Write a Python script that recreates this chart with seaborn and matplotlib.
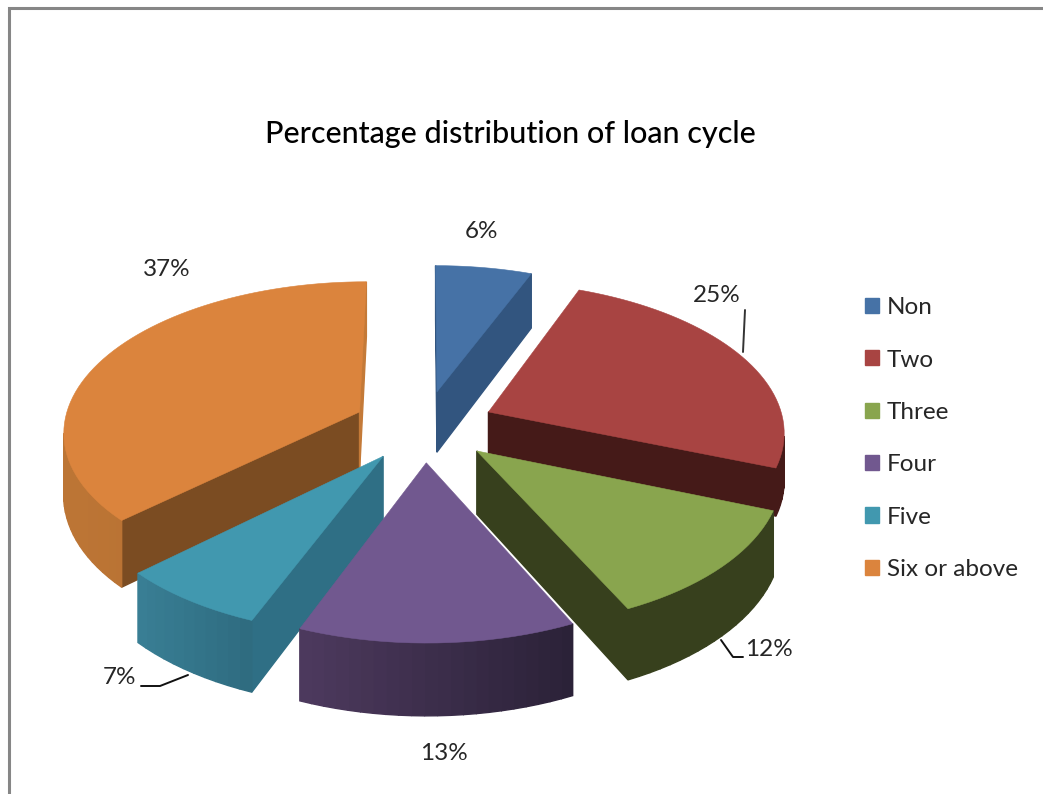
import numpy as np
import matplotlib
matplotlib.use("Agg")
import matplotlib.pyplot as plt
from matplotlib.colors import to_rgb
from matplotlib.patches import Patch, Polygon
import seaborn as sns

# Loan cycle shares, in percent
categories = ["Non", "Two", "Three", "Four", "Five", "Six or above"]
shares = [6, 25, 12, 13, 7, 37]

top_colors = ["#4672A6", "#A84442", "#89A54E", "#71588F", "#4198AF", "#DB843D"]
face_colors = ["#32557F", "#451A18", "#37401D", "#4A3A60", "#2F6F85", "#7B4C22"]
closing_face_colors = ["#32557F", "#451A18", "#37401D", "#4A3A60", "#2F6F85", "#C47A38"]
wall_left = ["#32557F", "#451A18", "#37401D", "#4E3A5F", "#3A8096", "#BC7535"]
wall_right = ["#32557F", "#451A18", "#37401D", "#2B2238", "#2F6C80", "#B06A2E"]
depth_scale = [1.0, 0.75, 1.0, 1.0, 1.0, 1.0]

# Pie projection settings, in pixels of the figure
CX, CY = 424, 426
RX, RY = 296, 149
PERSP = 0.12
DEPTH = 62
EXPLODE = 0.24

sns.set_theme(style="white")
plt.rcParams["font.family"] = ["Lato", "DejaVu Sans"]

fig = plt.figure(figsize=(10.43, 7.94), dpi=100, facecolor="white")
ax = fig.add_axes([0, 0, 1, 1])
ax.set_xlim(0, 1043)
ax.set_ylim(794, 0)
ax.axis("off")

# Chart frame, open on the right and at the bottom
ax.plot([9, 9, 1043], [794, 8, 8], color="#868686", lw=2.2, solid_joinstyle="miter", zorder=1)


def project(x, y, drop=0.0):
    s = 1.0 / (1.0 + PERSP * y)
    return CX + RX * x * s, CY - RY * y * s + DEPTH * drop * s


def signed_area(poly):
    xs, ys = np.array(poly).T
    return 0.5 * np.sum(xs * np.roll(ys, -1) - np.roll(xs, -1) * ys)


def slice_geometry(start, end):
    mid = 0.5 * (start + end)
    bx, by = EXPLODE * np.sin(mid), EXPLODE * np.cos(mid)
    ts = np.linspace(start, end, max(int(np.degrees(end - start) / 2), 4))
    return (bx, by), bx + np.sin(ts), by + np.cos(ts), ts


fractions = np.array(shares) / sum(shares)
edges = np.concatenate([[0], np.cumsum(fractions)]) * 2 * np.pi
slices = []
for i in range(len(shares)):
    apex, arc_x, arc_y, ts = slice_geometry(edges[i], edges[i + 1])
    slices.append((i, apex, arc_x, arc_y, ts))

# Paint the farthest slices first
slices.sort(key=lambda item: -(item[1][1] + item[3].mean()))
z = 2
for i, apex, xs, ys, ts in slices:
    top = [project(apex[0], apex[1])] + [project(a, b) for a, b in zip(xs, ys)]
    orient = np.sign(signed_area(top))
    left_px = project(xs.min(), ys.mean())[0]
    right_px = project(xs.max(), ys.mean())[0]
    drop = depth_scale[i]

    # Side walls: keep only those facing the viewer, the top face hides the rest
    ring = [apex] + list(zip(xs, ys)) + [apex]
    n = len(ring) - 1
    for k in range(n):
        (x0, y0), (x1, y1) = ring[k], ring[k + 1]
        quad = [project(x0, y0), project(x1, y1), project(x1, y1, drop), project(x0, y0, drop)]
        if signed_area(quad) * orient >= 0:
            continue
        if k == 0:
            color = face_colors[i]
        elif k == n - 1:
            color = closing_face_colors[i]
        else:
            u = float(np.clip((project(x0, y0)[0] - left_px) / max(1e-6, right_px - left_px), 0, 1))
            color = tuple((1 - u) * np.array(to_rgb(wall_left[i])) + u * np.array(to_rgb(wall_right[i])))
        ax.add_patch(Polygon(quad, closed=True, facecolor=color, edgecolor=color, lw=1.0, zorder=z))
    ax.add_patch(Polygon(top, closed=True, facecolor=top_colors[i], edgecolor=top_colors[i], lw=0.4, zorder=z + 1))
    z += 2

# Percentage labels
label_xy = [(481, 232), (717, 295), (769, 649), (444, 754), (120, 678), (167, 269)]
for share, (lx, ly) in zip(shares, label_xy):
    ax.text(lx, ly, f"{share}%", ha="center", va="center", fontsize=17.5, color="#262626", zorder=50)

# Leader lines for the labels set away from their slices
ax.plot([745, 743], [310, 352], color="#333333", lw=1.4, zorder=40)
ax.plot([721, 733, 743], [640, 657, 657], color="#111111", lw=1.4, zorder=40)
ax.plot([141, 160, 188], [686, 686, 675], color="#111111", lw=1.4, zorder=40)

ax.text(510, 134, "Percentage distribution of loan cycle", ha="center", va="center",
        fontsize=22, fontweight=500, color="#000000", zorder=50)

handles = [Patch(facecolor=c, edgecolor=c, label=n) for c, n in zip(top_colors, categories)]
ax.legend(handles=handles, loc="upper left", bbox_to_anchor=(853 / 1043, 1 - 285 / 794),
          frameon=False, fontsize=17.5, handlelength=0.58, handleheight=0.58, handletextpad=0.3,
          labelspacing=1.29, borderpad=0, labelcolor="#262626")

fig.savefig("out.png", dpi=100)
